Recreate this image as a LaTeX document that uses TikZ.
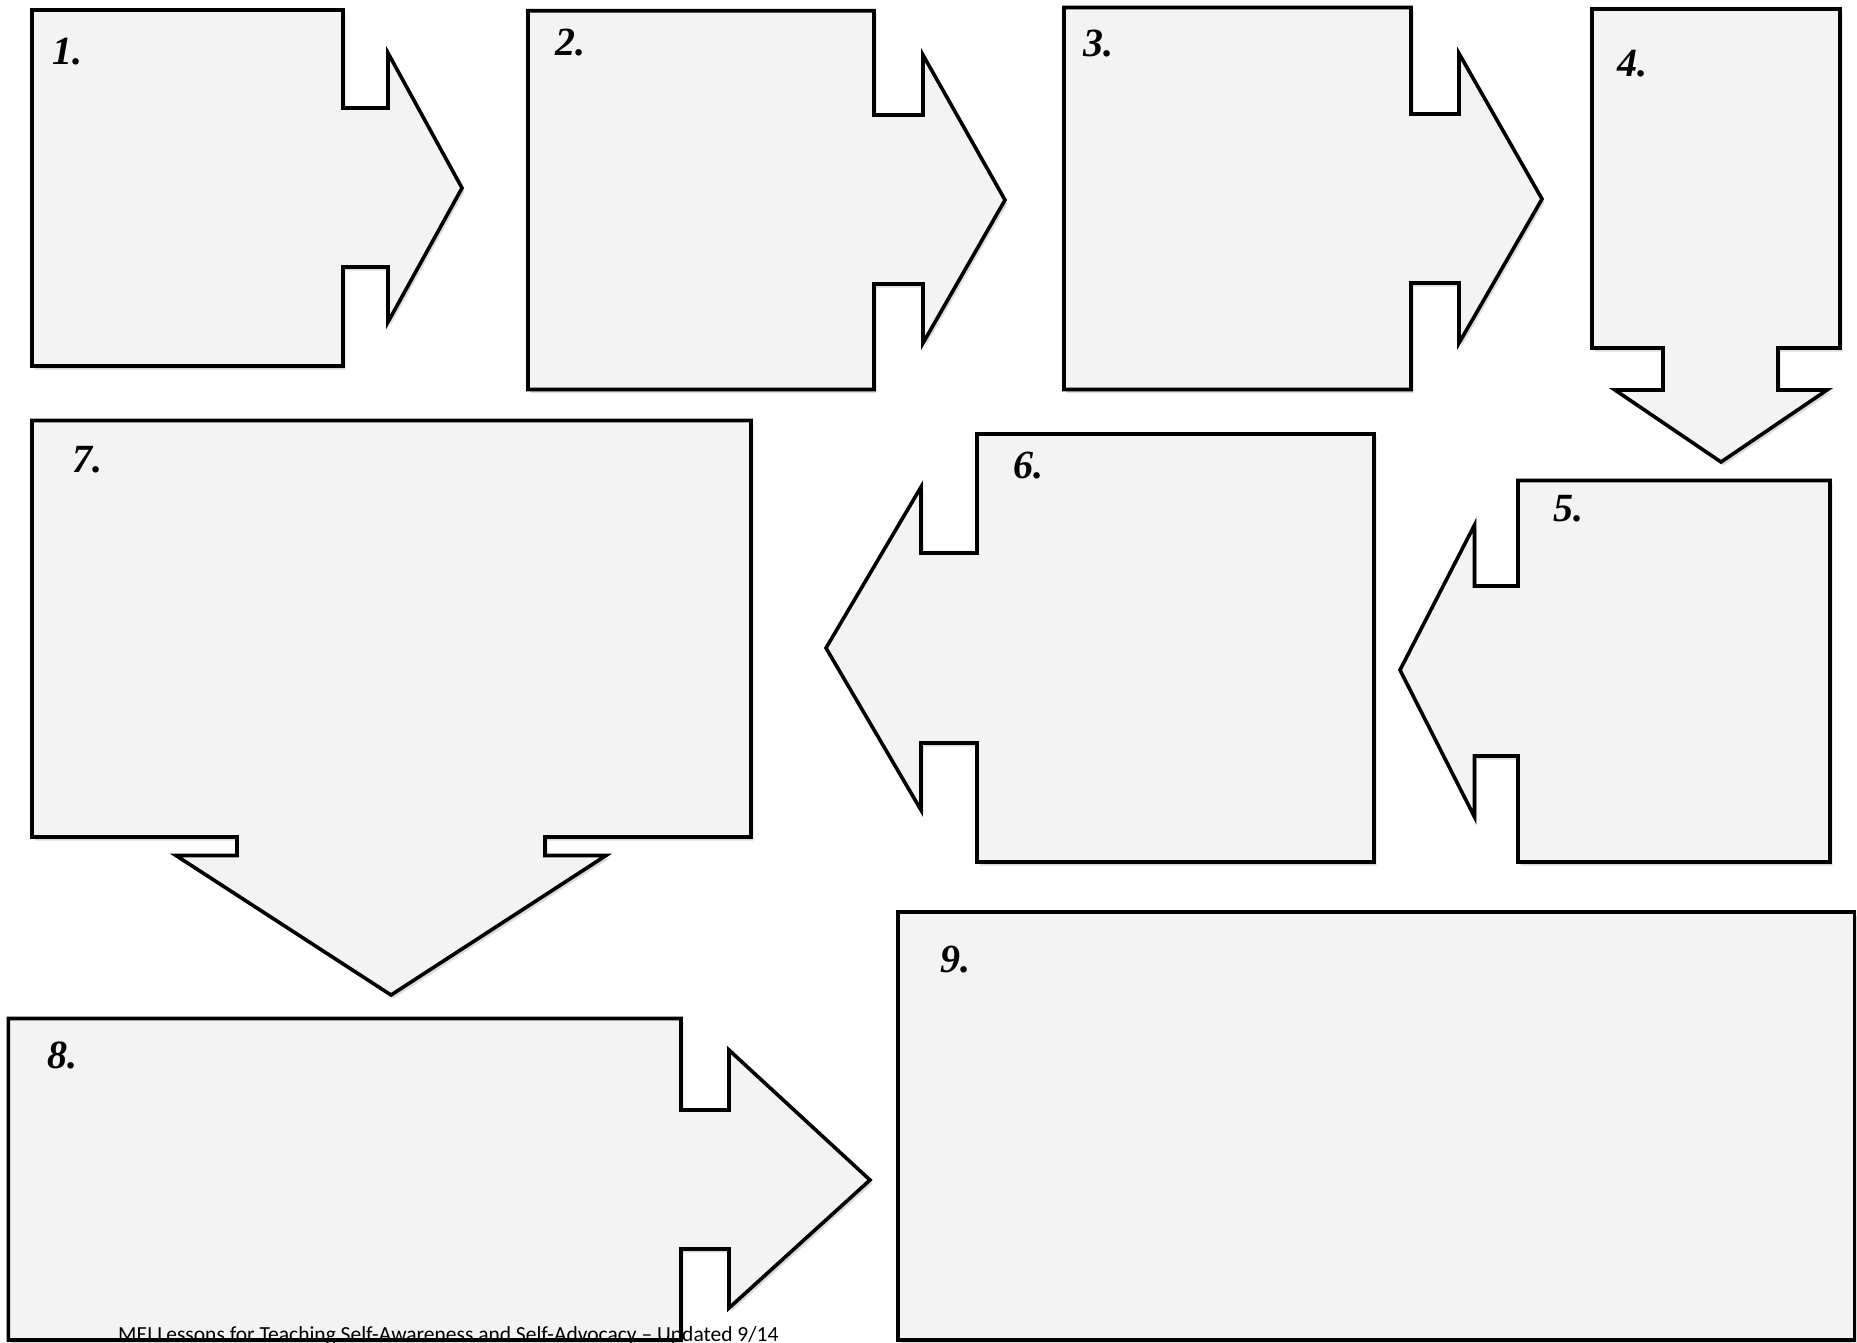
\documentclass[tikz,border=0pt]{standalone}
\usepackage{fontspec}
\setmainfont{Liberation Serif}
\newfontfamily\footfont{Carlito}
\usetikzlibrary{shadows}
\definecolor{boxfill}{HTML}{F3F3F3}
\tikzset{
  panel/.style={draw=black, line width=3.6pt, fill=boxfill, line join=miter,
    drop shadow={opacity=0.28, shadow xshift=2.5pt, shadow yshift=-3.5pt}},
  outline/.style={draw=black, line width=3.6pt, line join=miter},
  num/.style={anchor=base west, inner sep=0pt, font=\fontsize{40}{40}\selectfont\bfseries\itshape},
  foot/.style={anchor=base west, inner sep=0pt, font=\footfont\fontsize{21.5}{22}\selectfont}
}
\begin{document}
\begin{tikzpicture}[x=1pt,y=-1pt]
\useasboundingbox[fill=white] (0,0) rectangle (1857,1342);
% 1
\path[panel] (32,10) -- (343,10) -- (343,108) -- (388,108) -- (388,53) -- (462,188)
  -- (388,322) -- (388,267) -- (343,267) -- (343,366) -- (32,366) -- cycle;
% 2
\path[panel] (528,10.7) -- (874,10.7) -- (874,115) -- (923,115) -- (923,55) -- (1005,200)
  -- (923,343) -- (923,284) -- (874,284) -- (874,389.5) -- (528,389.5) -- cycle;
% 3
\path[panel] (1064,7.5) -- (1411,7.5) -- (1411,114) -- (1459,114) -- (1459,53.5) -- (1542,199)
  -- (1459,343) -- (1459,283) -- (1411,283) -- (1411,389.5) -- (1064,389.5) -- cycle;
% 4
\path[panel] (1592,9) -- (1840,9) -- (1840,348) -- (1778,348) -- (1778,390) -- (1827,390)
  -- (1721,462) -- (1615,390) -- (1663,390) -- (1663,348) -- (1592,348) -- cycle;
% 5
\path[panel] (1518,480.5) -- (1830,480.5) -- (1830,862) -- (1518,862) -- (1518,756)
  -- (1474.5,756) -- (1474.5,817) -- (1400,670) -- (1474.5,525) -- (1474.5,586) -- (1518,586) -- cycle;
% 6
\path[panel] (977,434) -- (1374,434) -- (1374,862) -- (977,862) -- (977,743)
  -- (921,743) -- (921,810) -- (826,648) -- (921,487) -- (921,553) -- (977,553) -- cycle;
% 7
\path[panel] (32,420.5) -- (751,420.5) -- (751,837) -- (545,837) -- (545,855.5) -- (606,855.5)
  -- (391,995) -- (176,855.5) -- (237,855.5) -- (237,837) -- (32,837) -- cycle;
% 8
\path[panel] (8.3,1018.5) -- (681,1018.5) -- (681,1110) -- (729,1110) -- (729,1050) -- (870,1180)
  -- (729,1308) -- (729,1249) -- (681,1249) -- (681,1340) -- (8.3,1340) -- cycle;
% 9
\path[panel] (898,912) rectangle (1854.5,1340);

% labels
\node[num] (n1) at (52,64) {1.};
\node[num] (n2) at (555,55) {2.};
\node[num] (n3) at (1083,56) {3.};
\node[num] (n4) at (1617,76) {4.};
\node[num] (n5) at (1553,521) {5.};
\node[num] (n6) at (1013,478) {6.};
\node[num] (n7) at (72,472) {7.};
\node[num] (n8) at (47,1068) {8.};
\node[num] (n9) at (940,972) {9.};

% footer
\node[foot] (footer) at (118,1341) {MEI Lessons for Teaching Self-Awareness and Self-Advocacy – Updated 9/14};
\path[outline] (681,1249) -- (681,1340);
\end{tikzpicture}
\end{document}
